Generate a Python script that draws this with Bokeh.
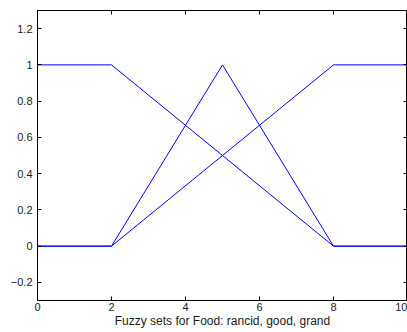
from bokeh.plotting import figure
from bokeh.models import FixedTicker, LinearAxis, Range1d, Title
from bokeh.embed import file_html
from bokeh.resources import INLINE

x = [0, 2, 5, 8, 10]
rancid = [1, 1, 0.5, 0, 0]
good = [0, 0, 1, 0, 0]
grand = [0, 0, 0.5, 1, 1]

x_ticks = [0, 2, 4, 6, 8, 10]
y_ticks = [-0.2, 0, 0.2, 0.4, 0.6, 0.8, 1, 1.2]
y_labels = ["\u22120.2", "0", "0.2", "0.4", "0.6", "0.8", "1", "1.2"]
x_label = "Fuzzy sets for Food: rancid, good, grand"

FONT = "Liberation Sans"

p = figure(frame_width=370, frame_height=290, output_backend="svg", toolbar_location=None,
           x_range=Range1d(0, 10), y_range=Range1d(-0.3, 1.3),
           min_border_left=37, min_border_right=0, min_border_top=10, min_border_bottom=0)
p.grid.visible = False
p.outline_line_color = "black"
p.outline_line_width = 1
p.background_fill_color = "white"
p.border_fill_color = "white"

for ys in (rancid, good, grand):
    p.line(x, ys, line_color="#0000ff", line_width=1)

def style(ax):
    ax.axis_line_color = "black"
    ax.major_tick_in = 4
    ax.major_tick_out = 0
    ax.minor_tick_line_color = None
    ax.major_label_text_font = FONT
    ax.major_label_text_font_size = "11px"
    ax.major_label_text_color = "#1a1a1a"
    ax.major_label_standoff = 2

p.xaxis.ticker = FixedTicker(ticks=x_ticks)
p.yaxis.ticker = FixedTicker(ticks=y_ticks)
p.yaxis.major_label_overrides = {t: l for t, l in zip(y_ticks, y_labels)}
style(p.xaxis[0]); style(p.yaxis[0])
p.yaxis.major_label_standoff = 5

p.add_layout(Title(text=x_label, align="center", offset=7, standoff=0,
                   vertical_align="top", text_line_height=0.8,
                   text_font=FONT, text_font_style="normal", text_font_size="12px",
                   text_color="#1a1a1a"), "below")

top = LinearAxis(ticker=FixedTicker(ticks=x_ticks), axis_line_color="black",
                 major_tick_in=4, major_tick_out=0, minor_tick_line_color=None,
                 major_label_standoff=0,
                 major_label_overrides={t: "" for t in x_ticks})
right = LinearAxis(ticker=FixedTicker(ticks=y_ticks), axis_line_color="black",
                   major_tick_in=4, major_tick_out=0, minor_tick_line_color=None,
                   major_label_standoff=0,
                   major_label_overrides={t: "" for t in y_ticks})
p.add_layout(top, "above")
p.add_layout(right, "right")

open("out.html", "w").write(file_html(p, INLINE))
